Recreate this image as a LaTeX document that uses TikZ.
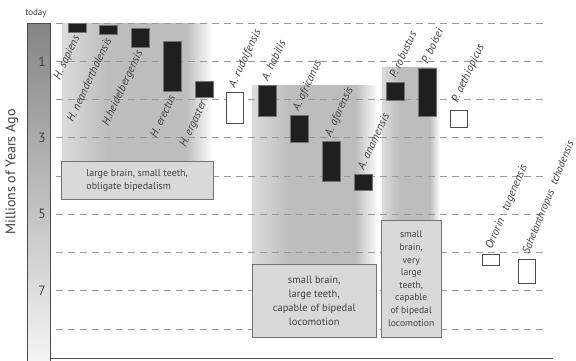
\documentclass[tikz,border=0pt]{standalone}
\usepackage{fontspec}
\setmainfont{PT Sans}
\usepackage{tikz}
\pgfdeclarehorizontalshading{band}{100bp}{color(0bp)=(black!14); color(25bp)=(black!14); color(40bp)=(black!26); color(66bp)=(black!26); color(75bp)=(white); color(100bp)=(white)}

\begin{document}
\begin{tikzpicture}[x=1pt,y=-1pt]
\tikzset{fossil/.style = {draw=black!55,fill=black!88,inner sep=0pt,minimum width=18pt,anchor=north west}}
\tikzset{record/.style = {draw=black!70,fill=white,line width=1.2pt,inner sep=0pt,minimum width=17pt,anchor=north west}}
\tikzset{species/.style = {font=\fontsize{11.3}{13}\selectfont\itshape,text=black!75,rotate=65,inner sep=0pt}}
\tikzset{trait/.style = {draw=black!55,fill=black!15,text=black!75,inner sep=0pt,anchor=north west}}
\tikzset{grid/.style = {draw=black!40,line width=1pt,dash pattern=on 7pt off 5pt}}
\useasboundingbox (0,0) rectangle (576,360);
% shaded groups
\shade[shading=band] (62,23) rectangle (213,161);
\shade[shading=band] (252,85) rectangle (378,264);
\shade[shading=band] (382,67) rectangle (440,220);
% time axis
\shade[top color=black!48,bottom color=black!4,draw=black!70,line width=1pt] (27,23) rectangle (50,362);
\node[font=\fontsize{9}{10}\selectfont,text=black!75] (today) at (36,13) {today};
\node[rotate=90,font=\fontsize{14}{16}\selectfont,text=black!75] (axis) at (12,172) {Millions of Years Ago};
\foreach \k in {1,3,5,7}
  \node[font=\fontsize{13.5}{15}\selectfont,text=black!75] (m\k) at (42,23+38.25*\k) {\k};
\foreach \k in {0,...,8}
  \draw[grid] (56,23+38.25*\k) -- (546,23+38.25*\k);
\draw[black!70,line width=1pt] (50,358) -- (553,358);
% bars
\node[fossil,minimum height=9pt] (sapiens) at (68,23) {};
\node[fossil,minimum height=9pt] (neanderthalensis) at (99,25) {};
\node[fossil,minimum height=19pt] (heidelbergensis) at (131,28) {};
\node[fossil,minimum height=50pt] (erectus) at (163,41) {};
\node[fossil,minimum height=16pt] (ergaster) at (195,81) {};
\node[record,minimum height=31pt] (rudolfensis) at (226,92) {};
\node[fossil,minimum height=31pt] (habilis) at (258,85) {};
\node[fossil,minimum height=27pt] (africanus) at (290,115) {};
\node[fossil,minimum height=40pt] (afarensis) at (322,141) {};
\node[fossil,minimum height=16pt] (anamensis) at (354,174) {};
\node[fossil,minimum height=18pt] (robustus) at (386,82) {};
\node[fossil,minimum height=48pt] (boisei) at (418,68) {};
\node[record,minimum height=17pt] (aethiopicus) at (450,110) {};
\node[record,minimum height=11pt] (tugenensis) at (482,254) {};
\node[record,minimum height=24pt] (tchadensis) at (518,259) {};
%labels
\node[species,anchor=east] (sapiens text) at ([yshift=-4pt]sapiens.south) {H. sapiens};
\node[species,anchor=east] (neanderthalensis text) at ([yshift=-4pt]neanderthalensis.south) {H. neanderthalensis};
\node[species,anchor=east] (heidelbergensis text) at ([yshift=-4pt]heidelbergensis.south) {H.heidelbergensis};
\node[species,anchor=east] (erectus text) at ([yshift=-4pt]erectus.south) {H. erectus};
\node[species,anchor=east] (ergaster text) at ([yshift=-4pt]ergaster.south) {H. ergaster};
\node[species,anchor=west] (rudolfensis text) at ([xshift=-3pt,yshift=5pt]rudolfensis.north) {A. rudolfensis};
\node[species,anchor=west] (habilis text) at ([xshift=-3pt,yshift=5pt]habilis.north) {A. habilis};
\node[species,anchor=west] (africanus text) at ([xshift=-3pt,yshift=5pt]africanus.north) {A. africanus};
\node[species,anchor=west] (afarensis text) at ([xshift=-3pt,yshift=5pt]afarensis.north) {A. afarensis};
\node[species,anchor=west] (anamensis text) at ([xshift=-3pt,yshift=5pt]anamensis.north) {A. anamensis};
\node[species,anchor=west] (robustus text) at ([xshift=-3pt,yshift=5pt]robustus.north) {P. robustus};
\node[species,anchor=west] (boisei text) at ([xshift=-3pt,yshift=5pt]boisei.north) {P. boisei};
\node[species,anchor=west] (aethiopicus text) at ([xshift=-4pt,yshift=8pt]aethiopicus.north) {P. aethiopicus};
\node[species,anchor=west,rotate=2] (tugenensis text) at ([xshift=-2pt,yshift=5pt]tugenensis.north) {Orrorin\ \ \ tugenensis};
\node[species,anchor=west,rotate=3,font=\fontsize{10.8}{13}\selectfont\itshape] (tchadensis text) at ([xshift=-1pt,yshift=5pt]tchadensis.north) {Sahelanthropus\ \ tchadensis};
% trait boxes
\node[trait,minimum width=152pt,minimum height=38pt,align=left,font=\fontsize{10}{13}\selectfont] (homo box) at (61,161) {large brain, small teeth,\\obligate bipedalism};
\node[trait,minimum width=124pt,minimum height=73pt,align=center,font=\fontsize{10.5}{14}\selectfont] (australopith box) at (252,264) {small brain,\\large teeth,\\capable of bipedal\\locomotion};
\node[trait,minimum width=60pt,minimum height=117pt,align=center,font=\fontsize{9.6}{12.6}\selectfont] (paranthropus box) at (381,220) {small\\brain,\\very\\large\\teeth,\\capable\\of bipedal\\locomotion};
\end{tikzpicture}
\end{document}
